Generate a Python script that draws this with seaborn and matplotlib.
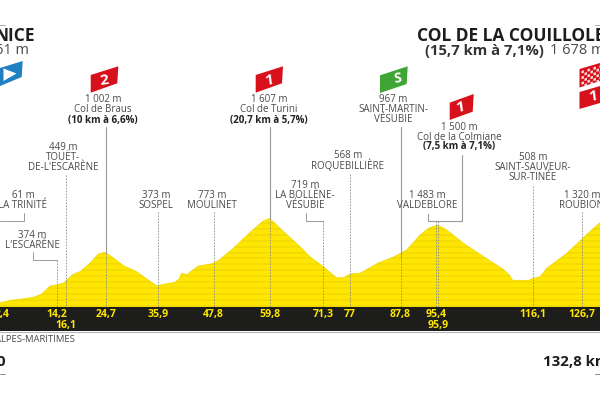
import matplotlib
matplotlib.use("Agg")
import matplotlib.pyplot as plt
import numpy as np
import pandas as pd
import seaborn as sns

# profil de l'etape (km, altitude en m)
profil_km = [2.06, 4.2, 6.3, 9.2, 11.0, 12.8, 14.2, 15.6, 17.8, 19.2, 21.3, 23.1, 24.5, 26.0, 28.5, 31.3,
             33.8, 35.7, 37.0, 39.5, 40.4, 41.0, 42.0, 44.5, 47.5, 48.8, 52.0, 55.6, 58.4, 59.8, 62.0, 66.3,
             68.4, 71.1, 73.1, 74.1, 75.6, 77.0, 79.1, 83.1, 86.3, 89.1, 92.0, 93.8, 95.7, 97.7, 101.3,
             105.6, 109.8, 111.1, 111.8, 115.2, 116.3, 117.7, 119.1, 123.4, 126.8, 129.1, 130.5]
profil_alt = [121, 163, 181, 216, 275, 415, 438, 463, 627, 667, 815, 979, 1008, 931, 773, 667,
              521, 415, 445, 480, 544, 644, 614, 767, 808, 861, 1079, 1360, 1559, 1607, 1431, 1107,
              931, 767, 627, 561, 561, 627, 639, 825, 926, 1049, 1313, 1431, 1489, 1401, 1167,
              931, 709, 609, 516, 516, 551, 581, 727, 991, 1255, 1431, 1529]

# kilometrages : premiere ligne et deuxieme ligne de la bande noire
km_ligne1 = [2.4, 14.2, 24.7, 35.9, 47.8, 59.8, 71.3, 77, 87.8, 95.4, 116.1, 126.7]
km_ligne2 = [16.1, 95.9]
km_textes1 = ["2,4", "14,2", "24,7", "35,9", "47,8", "59,8", "71,3", "77", "87,8", "95,4", "116,1", "126,7"]
km_textes2 = ["16,1", "95,9"]

# reperes : lignes du texte, centre x, y du haut, col ou non
reperes = [
    (["61 m", "LA TRINITÉ"], 23, 196, False),
    (["374 m", "L'ESCARÈNE"], 32, 235, False),
    (["449 m", "TOUËT-", "DE-L'ESCARÈNE"], 63, 147, False),
    (["1 002 m", "Col de Braus", "(10 km à 6,6%)"], 103, 100, True),
    (["373 m", "SOSPEL"], 156, 196, False),
    (["773 m", "MOULINET"], 212, 196, False),
    (["1 607 m", "Col de Turini", "(20,7 km à 5,7%)"], 269, 100, True),
    (["719 m", "LA BOLLÈNE-", "VÉSUBIE"], 305, 185, False),
    (["568 m", "ROQUEBILLIÈRE"], 348, 156, False),
    (["967 m", "SAINT-MARTIN-", "VÉSUBIE"], 393, 100, False),
    (["1 500 m", "Col de la Colmiane", "(7,5 km à 7,1%)"], 459, 127, True),
    (["1 483 m", "VALDEBLORE"], 427, 196, False),
    (["508 m", "SAINT-SAUVEUR-", "SUR-TINÉE"], 533, 158, False),
    (["1 320 m", "ROUBION"], 582, 196, False),
]

# traits pointilles (km, haut) et traits pleins (km, haut, bas)
pointilles_km = [14.2, 16.1, 24.7, 35.9, 47.8, 59.8, 71.3, 77, 87.8, 95.4, 95.9, 116.1, 126.7]
pointilles_haut = [260, 175, 253, 212, 212, 218, 221, 174, 257, 221, 221, 186, 212]
pleins_km = [24.7, 59.8, 87.8]
pleins_haut = [127, 127, 127]
pleins_bas = [253, 218, 257]

sns.set_theme(style="white")
plt.rcParams['font.family'] = ['Open Sans', 'DejaVu Sans']

fig = plt.figure(figsize=(6, 4), dpi=100)
ax = fig.add_axes([0, 0, 1, 1])
ax.set_xlim(2.06, 130.5)
ax.set_ylim(-1591, 5449)
ax.axis('off')

# calque en pixels pour le texte et les drapeaux
pix = fig.add_axes([0, 0, 1, 1], zorder=5)
pix.set_xlim(0, 600)
pix.set_ylim(400, 0)
pix.axis('off')
pix.patch.set_alpha(0)

def px_km(km):
    return (km - 2.06) * 600 / (130.5 - 2.06)

# le profil jaune avec ses rayures
df = pd.DataFrame({"km": profil_km, "alt": profil_alt})
zone = ax.fill_between(df["km"], -100, df["alt"], color="#FFE600", lw=0, zorder=1)
sns.lineplot(data=df, x="km", y="alt", color="#F0D800", lw=0.5, ax=ax, zorder=2)
ax.set_xlabel('')
ax.set_ylabel('')
rayures = ax.hlines(np.arange(60, 1700, 105), 2.06, 130.5, color="#C8B400", lw=0.35, alpha=0.8, zorder=2)
rayures.set_clip_path(zone.get_paths()[0], ax.transData)

# bande noire
pix.fill_between([0, 600], 307, 331, color="#1D1D1B", lw=0, zorder=3)
pix.plot([0, 600], [331.5, 331.5], color="#B5B5B5", lw=0.8, zorder=3)

gris = "#4A4A4A"
trait = "#9A9A9A"

for km, haut in zip(pointilles_km, pointilles_haut):
    pix.plot([px_km(km)] * 2, [haut, 307], color="#8A8A8A", lw=0.6, ls=(0, (2, 1.6)), zorder=2)
for km, haut, bas in zip(pleins_km, pleins_haut, pleins_bas):
    pix.plot([px_km(km)] * 2, [haut, bas], color=trait, lw=0.8, zorder=2)

# crochets
pix.plot([24, 24, 0], [213, 221, 221], color=trait, lw=0.7)
pix.plot([33, 33, px_km(14.2)], [252, 260, 260], color=trait, lw=0.7)
pix.plot([306, 306, px_km(71.3)], [213, 221, 221], color=trait, lw=0.7)
pix.plot([461.7, 461.7, 427.7, 427.7], [155, 221, 221, 214], color=trait, lw=0.8)

for lignes, x, y, col in reperes:
    for i, ligne in enumerate(lignes):
        gras = col and i == 2
        pix.text(x, y + i * 10, ligne, ha='center', va='center', fontsize=7,
                 color="#222222" if gras else gris, fontweight='bold' if gras else 'normal')

for km, txt in zip(km_ligne1, km_textes1):
    pix.text(px_km(km), 314.5, txt, ha='center', va='center', fontsize=7.6,
             color="#FFE600", fontweight='bold', zorder=4)
for km, txt in zip(km_ligne2, km_textes2):
    pix.text(px_km(km), 325.5, txt, ha='center', va='center', fontsize=7.6,
             color="#FFE600", fontweight='bold', zorder=4)

# titres
pix.text(34.5, 36, "NICE", ha='right', va='center', fontsize=12.5, fontweight='bold', color="#1D1D1B")
pix.text(29, 51, "61 m", ha='right', va='center', fontsize=10.5, color=gris)
pix.text(417, 36, "COL DE LA COUILLOLE", ha='left', va='center', fontsize=12.5, fontweight='bold', color="#1D1D1B")
pix.text(425, 51, "(15,7 km à 7,1%)", ha='left', va='center', fontsize=10.7, fontweight='bold', color="#333333")
pix.text(550, 51, "1 678 m", ha='left', va='center', fontsize=10.5, color=gris)
pix.text(75, 339, "ALPES-MARITIMES", ha='right', va='center', fontsize=6.8, color=gris)
pix.text(543, 362, "132,8 km", ha='left', va='center', fontsize=10.8, fontweight='bold', color="#1D1D1B")
pix.text(5, 362, "0", ha='right', va='center', fontsize=10.8, fontweight='bold', color="#1D1D1B")
pix.plot([0, 5], [374, 374], color="#777777", lw=0.6)
pix.plot([595, 600], [374, 374], color="#777777", lw=0.6)
pix.plot([0, 5], [25, 25], color="#999999", lw=0.6)
pix.plot([595, 600], [25, 25], color="#999999", lw=0.6)

# drapeaux
def drapeau(xs, ys, couleur, texte=None, tx=0, ty=0, taille=11):
    pix.fill(xs, ys, color=couleur, lw=0)
    if texte:
        pix.text(tx, ty, texte, ha='center', va='center', color='white', fontsize=taille,
                 fontweight='bold', rotation=8)

drapeau([0, 22.7, 21.7, 0], [68, 61, 77, 86], "#1F80C4")
pix.fill([3.5, 16.5, 3.5], [68.5, 73.5, 81], color="white", lw=0)
drapeau([90.7, 118.3, 117.3, 90.7], [75, 66.3, 83.3, 92.7], "#D7111C", "2", 104, 80)
drapeau([255.7, 283, 282, 255.7], [75, 66.3, 83.3, 92.7], "#D7111C", "1", 269, 80)
drapeau([380, 407.7, 406.7, 380], [75.3, 66.3, 84, 93], "#3FA535", "S", 398, 79, 10)
drapeau([449.7, 473.7, 472.7, 449.7], [102.7, 94, 111.7, 120], "#D7111C", "1", 460, 107)

# drapeau a damier de l'arrivee
drapeau([579.5, 600, 600, 579.5], [69, 63, 81, 87.5], "#D7111C")
for i in range(7):
    for j in range(6):
        if (i + j) % 2 == 0:
            cx = 581.5 + i * 3
            cy = 71.5 + j * 2.8 - (cx - 579.5) * 0.3
            pix.fill([cx, cx + 2.4, cx + 2.4, cx], [cy, cy - 0.7, cy + 1.9, cy + 2.6], color="#FBE3E3", lw=0)
drapeau([579.5, 600, 600, 579.5], [92, 86, 103, 109], "#D7111C", "1", 592.5, 96.5)

fig.savefig("out.png", dpi=100)
